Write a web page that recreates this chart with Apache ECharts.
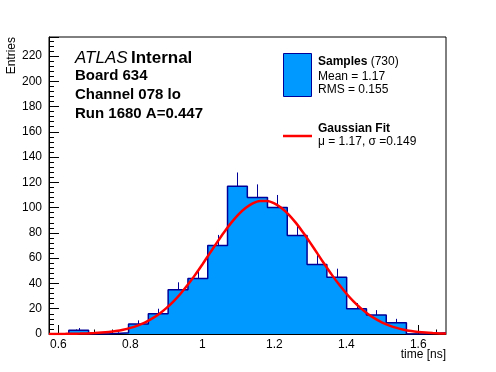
<!DOCTYPE html>
<html><head><meta charset="utf-8">
<script src="https://cdn.jsdelivr.net/npm/echarts@6/dist/echarts.min.js"></script>
<style>html,body{margin:0;padding:0;background:#fff}#c{width:496px;height:372px}</style>
</head><body><div id="c"></div>
<script>
const binEdges = [0.574,0.629,0.684,0.739,0.795,0.850,0.905,0.960,1.015,1.070,1.125,1.181,1.236,1.291,1.346,1.401,1.456,1.511,1.567,1.622,1.677];
const counts = [0,3,0,1,8,16,35,44,70,117,108,100,78,55,45,20,15,9,0,1];
const errors = [0,1.7,0,1.0,2.8,4.0,5.9,6.6,8.4,10.8,10.4,10.0,8.8,7.4,6.7,4.5,3.9,3.0,0,1.0];
const fitX = [0.574,0.58,0.60,0.62,0.64,0.66,0.68,0.70,0.72,0.74,0.76,0.78,0.80,0.82,0.84,0.86,0.88,0.90,0.92,0.94,0.96,0.98,1.00,1.02,1.04,1.06,1.08,1.10,1.12,1.14,1.16,1.18,1.20,1.22,1.24,1.26,1.28,1.30,1.32,1.34,1.36,1.38,1.40,1.42,1.44,1.46,1.48,1.50,1.52,1.54,1.56,1.58,1.60,1.62,1.64,1.66,1.677];
const fitY = [0.035,0.04,0.07,0.12,0.19,0.30,0.47,0.73,1.10,1.64,2.39,3.43,4.83,6.68,9.08,12.11,15.87,20.43,25.82,32.05,39.08,46.79,55.03,63.56,72.10,80.33,87.91,94.48,99.72,103.38,105.26,105.26,103.38,99.72,94.48,87.91,80.33,72.10,63.56,55.03,46.79,39.08,32.05,25.82,20.43,15.87,12.11,9.08,6.68,4.83,3.43,2.39,1.64,1.10,0.73,0.47,0.32];
const xTicks = [0.6,0.8,1.0,1.2,1.4,1.6];
const xMinorTicks = [0.65,0.7,0.75,0.85,0.9,0.95,1.05,1.1,1.15,1.25,1.3,1.35,1.45,1.5,1.55,1.65];
const yMin = 0, yMax = 235, yInterval = 20;
const xMin = 0.574, xMax = 1.677;

const FONT = "'Liberation Sans', Arial, Helvetica, sans-serif";
const NAVY = '#000099';
const FILL = '#0099ff';

const stepData = binEdges.map((e, i) => [e, counts[Math.min(i, counts.length - 1)]]);
const errData = counts.map((c, i) => [(binEdges[i] + binEdges[i + 1]) / 2, c, errors[i]]);
const fitData = fitX.map((x, i) => [x, fitY[i]]);

const chart = echarts.init(document.getElementById('c'), null, {renderer: 'canvas'});
chart.setOption({
  animation: false,
  backgroundColor: '#fff',
  grid: {left: 49, top: 37, right: 50, bottom: 38, show: true, borderColor: '#000', borderWidth: 1, backgroundColor: 'transparent', containLabel: false},
  xAxis: [{
    type: 'value', min: xMin, max: xMax, position: 'bottom',
    axisLine: {show: true, onZero: false, lineStyle: {color: '#000', width: 1}},
    axisTick: {show: true, inside: true, length: 9, customValues: xTicks, lineStyle: {color: '#000'}},
    axisLabel: {show: true, customValues: xTicks, margin: 5, color: '#000', fontSize: 12, fontFamily: FONT},
    splitLine: {show: false}
  }, {
    type: 'value', min: xMin, max: xMax, position: 'bottom', gridIndex: 0,
    axisLine: {show: false},
    axisTick: {show: true, inside: true, length: 4.5, customValues: xMinorTicks, lineStyle: {color: '#000'}},
    axisLabel: {show: false},
    splitLine: {show: false}
  }],
  yAxis: {
    type: 'value', min: yMin, max: yMax, interval: yInterval,
    axisLine: {show: true, onZero: false, lineStyle: {color: '#000', width: 1}},
    axisTick: {show: true, inside: true, length: 10, lineStyle: {color: '#000'}},
    minorTick: {show: true, splitNumber: 5, length: 5, lineStyle: {color: '#000'}},
    axisLabel: {show: true, margin: 7, color: '#000', fontSize: 12, fontFamily: FONT, showMaxLabel: false},
    splitLine: {show: false}, minorSplitLine: {show: false}
  },
  series: [{
    type: 'line', xAxisIndex: 0, data: stepData, step: 'end', symbol: 'none',
    lineStyle: {color: NAVY, width: 1.5}, areaStyle: {color: FILL, opacity: 1}, z: 2
  }, {
    type: 'custom', xAxisIndex: 0, data: errData, encode: {x: 0, y: 1}, z: 3,
    renderItem: function (params, api) {
      const x = api.value(0), v = api.value(1), e = api.value(2);
      if (!e) return null;
      const p0 = api.coord([x, v]), p1 = api.coord([x, v + e]);
      const px = Math.round(p0[0]) + 0.5;
      return {type: 'line', shape: {x1: px, y1: p0[1], x2: px, y2: p1[1]}, style: {stroke: NAVY, lineWidth: 1}};
    }
  }, {
    type: 'line', xAxisIndex: 0, data: fitData, smooth: 0.3, symbol: 'none',
    lineStyle: {color: '#ff0000', width: 2.5}, z: 4
  }],
  graphic: [
    {type: 'text', x: 12, y: 37, rotation: Math.PI / 2, style: {text: 'Entries', font: '12px ' + FONT, fill: '#000', align: 'right', verticalAlign: 'middle'}},
    {type: 'text', x: 446, y: 355, style: {text: 'time [ns]', font: '12px ' + FONT, fill: '#000', align: 'right', verticalAlign: 'middle'}},
    {type: 'text', x: 75, y: 58, style: {text: '{a|ATLAS} {b|Internal}', verticalAlign: 'middle', rich: {a: {fontStyle: 'italic', fontSize: 17, fontFamily: FONT, fill: '#000'}, b: {fontWeight: 'bold', fontSize: 17, fontFamily: FONT, fill: '#000'}}}},
    {type: 'text', x: 75, y: 76, style: {text: 'Board 634', font: 'bold 15px ' + FONT, fill: '#000', verticalAlign: 'middle'}},
    {type: 'text', x: 75, y: 95, style: {text: 'Channel 078 lo', font: 'bold 15px ' + FONT, fill: '#000', verticalAlign: 'middle'}},
    {type: 'text', x: 75, y: 114, style: {text: 'Run 1680 A=0.447', font: 'bold 15px ' + FONT, fill: '#000', verticalAlign: 'middle'}},
    {type: 'rect', shape: {x: 283.5, y: 53.5, width: 28, height: 43}, style: {fill: FILL, stroke: NAVY, lineWidth: 1}},
    {type: 'text', x: 318, y: 62, style: {text: '{b|Samples} {n|(730)}', verticalAlign: 'middle', rich: {b: {fontWeight: 'bold', fontSize: 12, fontFamily: FONT, fill: '#000'}, n: {fontSize: 12, fontFamily: FONT, fill: '#000'}}}},
    {type: 'text', x: 318, y: 77, style: {text: 'Mean = 1.17', font: '12px ' + FONT, fill: '#000', verticalAlign: 'middle'}},
    {type: 'text', x: 318, y: 90, style: {text: 'RMS = 0.155', font: '12px ' + FONT, fill: '#000', verticalAlign: 'middle'}},
    {type: 'line', shape: {x1: 283, y1: 136, x2: 312, y2: 136}, style: {stroke: '#ff0000', lineWidth: 2.5}},
    {type: 'text', x: 318, y: 129, style: {text: 'Gaussian Fit', font: 'bold 12px ' + FONT, fill: '#000', verticalAlign: 'middle'}},
    {type: 'text', x: 318, y: 142, style: {text: 'μ = 1.17, σ =0.149', font: '12px ' + FONT, fill: '#000', verticalAlign: 'middle'}}
  ]
});
</script></body></html>
